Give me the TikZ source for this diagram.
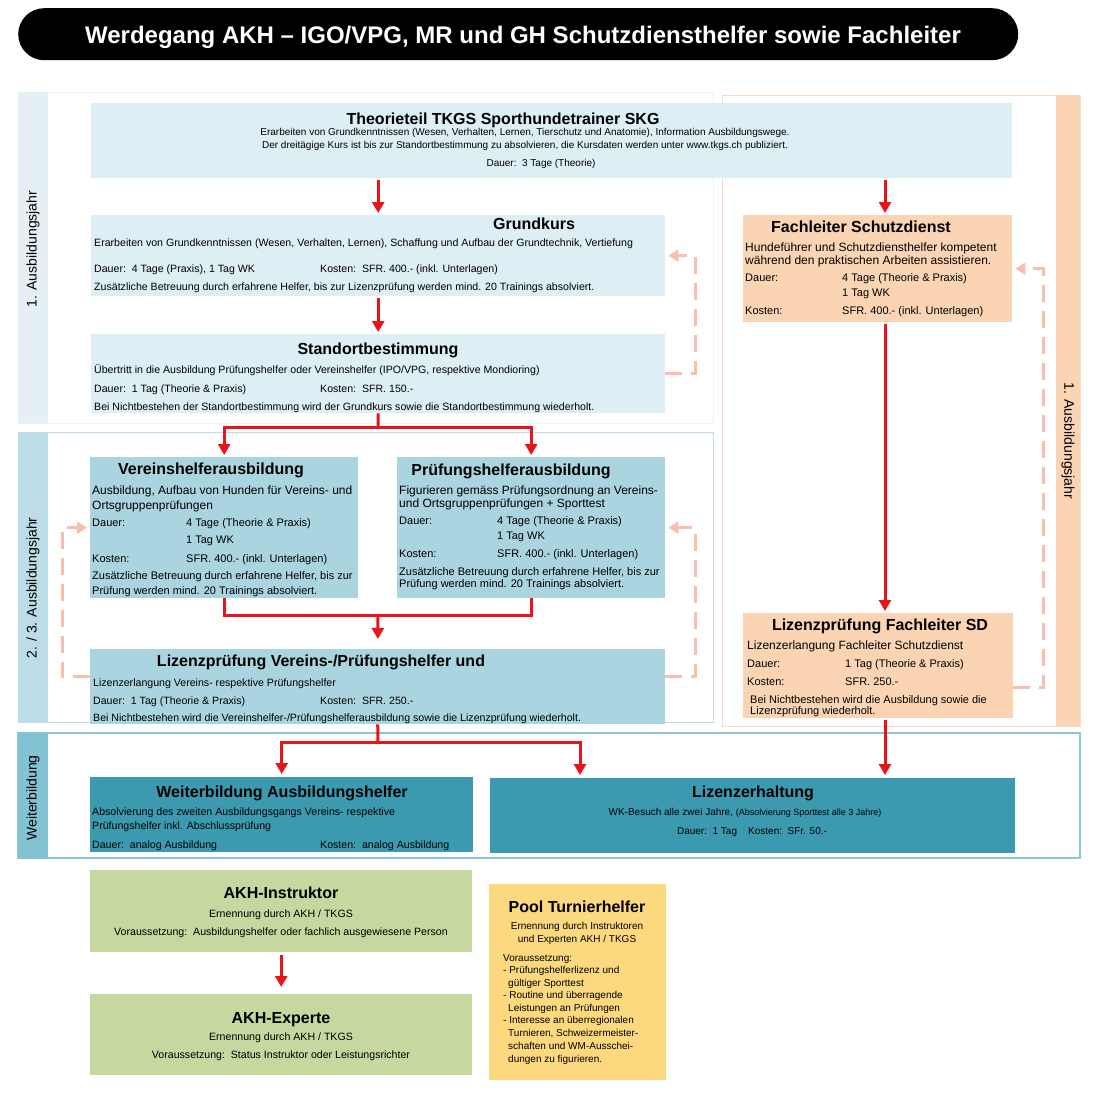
\documentclass[tikz,border=0pt]{standalone}
\usepackage{fontspec}
\setmainfont{Liberation Sans}
\usetikzlibrary{arrows.meta}
\newcommand\fsz[2]{\fontsize{#1}{#2}\selectfont}
\definecolor{lightbl}{RGB}{221,238,244}
\definecolor{midbl}{RGB}{169,212,224}
\definecolor{tealbl}{RGB}{59,154,176}
\definecolor{peach}{RGB}{251,212,180}
\definecolor{akhgreen}{RGB}{196,216,159}
\definecolor{poolyel}{RGB}{252,216,127}
\definecolor{arrred}{RGB}{232,20,26}
\definecolor{dashpink}{RGB}{248,190,176}
\definecolor{bandoneline}{RGB}{234,243,246}
\definecolor{bandonefill}{RGB}{228,240,244}
\definecolor{bandtwoline}{RGB}{190,220,231}
\definecolor{bandtwofill}{RGB}{188,220,231}
\definecolor{bandfl}{RGB}{249,220,200}
\definecolor{bandwbline}{RGB}{141,198,212}
\definecolor{bandwbfill}{RGB}{130,194,210}
\tikzset{
    box/.style={anchor=north west, inner sep=0, draw=none},
    ttl/.style={anchor=base, inner sep=0, font=\bfseries\fsz{16}{19}},
    tx/.style={anchor=base west, inner sep=0, font=\fsz{10}{12}},
    txc/.style={anchor=base, inner sep=0, font=\fsz{10}{12}},
    txb/.style={anchor=base west, inner sep=0, font=\fsz{10.6}{12}},
    txbc/.style={anchor=base, inner sep=0, font=\fsz{10.6}{12}},
    txm/.style={anchor=base west, inner sep=0, font=\fsz{11}{13}},
    txl/.style={anchor=base west, inner sep=0, font=\fsz{12}{14}},
    band/.style={inner sep=0, font=\fsz{14}{16}},
    redline/.style={draw=arrred, line width=3pt},
    redarrow/.style={redline, -{Triangle[length=11pt,width=12pt]}, shorten >=2pt, shorten <=2pt},
    dasharrow/.style={draw=dashpink, line width=3pt, dash pattern=on 17pt off 9pt,
        -{Triangle[length=10pt,width=12pt]}, shorten >=3pt}
}
\begin{document}
\begin{tikzpicture}[x=1pt, y=-1pt]
    \useasboundingbox (0,0) rectangle (1097,1092);
    % title
    \node[box, fill=black, rounded corners=26pt, minimum width=1000pt, minimum height=52pt] (head) at (18,8) {};
    \node[anchor=base, inner sep=0, text=white, font=\bfseries\fsz{24}{28}] (headt) at (523,43.5)
        {Werdegang AKH – IGO/VPG, MR und GH Schutzdiensthelfer sowie Fachleiter};

    % bands
    \draw[bandoneline] (18,92) rectangle (713,423);
    \fill[bandonefill] (18,92) rectangle (48,423);
    \draw[bandtwoline] (18,432) rectangle (713,722);
    \fill[bandtwofill] (18,432) rectangle (48,722);
    \draw[bandfl] (722,95) rectangle (1080,726);
    \fill[peach] (1056,95) rectangle (1080,726);
    \draw[bandwbline, line width=1.2pt] (18,733) rectangle (1080,858);
    \fill[bandwbfill] (18,733) rectangle (48,858);
    \node[band, rotate=90] (b1) at (33,249) {1. Ausbildungsjahr};
    \node[band, rotate=90] (b2) at (33,588) {2. / 3. Ausbildungsjahr};
    \node[band, rotate=90] (b3) at (33,798) {Weiterbildung};
    \node[band, rotate=-90] (b4) at (1068,441) {1. Ausbildungsjahr};

    % boxes
    \node[box, fill=lightbl, minimum width=921pt, minimum height=75pt] (th) at (91,103) {};
    \node[box, fill=lightbl, minimum width=574pt, minimum height=81pt] (gk) at (91,215) {};
    \node[box, fill=lightbl, minimum width=574pt, minimum height=79pt] (sb) at (91,334) {};
    \node[box, fill=midbl, minimum width=268pt, minimum height=141pt] (vh) at (90,457) {};
    \node[box, fill=midbl, minimum width=268pt, minimum height=141pt] (ph) at (397,457) {};
    \node[box, fill=midbl, minimum width=575pt, minimum height=75pt] (lz) at (90,649) {};
    \node[box, fill=peach, minimum width=269pt, minimum height=107pt] (fl) at (743,215) {};
    \node[box, fill=peach, minimum width=270pt, minimum height=105pt] (lfl) at (743,613) {};
    \node[box, fill=tealbl, minimum width=383pt, minimum height=75pt] (wb) at (90,777) {};
    \node[box, fill=tealbl, minimum width=525pt, minimum height=75pt] (le) at (490,778) {};
    \node[box, fill=akhgreen, minimum width=382pt, minimum height=82pt] (ins) at (90,870) {};
    \node[box, fill=akhgreen, minimum width=382pt, minimum height=81pt] (exp) at (90,994) {};
    \node[box, fill=poolyel, minimum width=177pt, minimum height=196pt] (pool) at (489,884) {};

    % Theorieteil
    \node[ttl] (tht) at (503,124) {Theorieteil TKGS Sporthundetrainer SKG};
    \node[txc] (th1) at (525,135.5) {Erarbeiten von Grundkenntnissen (Wesen, Verhalten, Lernen, Tierschutz und Anatomie), Information Ausbildungswege.};
    \node[txc] (th2) at (525,148.5) {Der dreitägige Kurs ist bis zur Standortbestimmung zu absolvieren, die Kursdaten werden unter www.tkgs.ch publiziert.};
    \node[txc] (th3) at (541,166.5) {Dauer:\ \ 3 Tage (Theorie)};

    % Grundkurs
    \node[ttl] (gkt) at (534,229) {Grundkurs};
    \node[txb] (gk1) at (94,246.5) {Erarbeiten von Grundkenntnissen (Wesen, Verhalten, Lernen), Schaffung und Aufbau der Grundtechnik, Vertiefung};
    \node[txb] (gk2) at (94,272.5) {Dauer:\ \ 4 Tage (Praxis), 1 Tag WK};
    \node[txb] (gk3) at (320,272.5) {Kosten:\ \ SFR. 400.- (inkl. Unterlagen)};
    \node[txb] (gk4) at (94,290.5) {Zusätzliche Betreuung durch erfahrene Helfer, bis zur Lizenzprüfung werden mind. 20 Trainings absolviert.};

    % Standortbestimmung
    \node[ttl] (sbt) at (378,354) {Standortbestimmung};
    \node[txb] (sb1) at (94,373.5) {Übertritt in die Ausbildung Prüfungshelfer oder Vereinshelfer (IPO/VPG, respektive Mondioring)};
    \node[txb] (sb2) at (94,392.5) {Dauer:\ \ 1 Tag (Theorie \& Praxis)};
    \node[txb] (sb3) at (320,392.5) {Kosten:\ \ SFR. 150.-};
    \node[txb] (sb4) at (94,410.5) {Bei Nichtbestehen der Standortbestimmung wird der Grundkurs sowie die Standortbestimmung wiederholt.};

    % Vereinshelferausbildung
    \node[ttl] (vht) at (211,474) {Vereinshelferausbildung};
    \node[txl] (vh1) at (92,494) {Ausbildung, Aufbau von Hunden für Vereins- und};
    \node[txl] (vh2) at (92,509) {Ortsgruppenprüfungen};
    \node[txm] (vh3) at (92,526) {Dauer:};
    \node[txm] (vh4) at (186,526) {4 Tage (Theorie \& Praxis)};
    \node[txm] (vh5) at (186,543) {1 Tag WK};
    \node[txm] (vh6) at (92,562) {Kosten:};
    \node[txm] (vh7) at (186,562) {SFR. 400.- (inkl. Unterlagen)};
    \node[txm] (vh8) at (92,579) {Zusätzliche Betreuung durch erfahrene Helfer, bis zur};
    \node[txm] (vh9) at (92,594) {Prüfung werden mind. 20 Trainings absolviert.};

    % Pruefungshelferausbildung
    \node[ttl] (pht) at (511,475) {Prüfungshelferausbildung};
    \node[txl] (ph1) at (399,494) {Figurieren gemäss Prüfungsordnung an Vereins-};
    \node[txl] (ph2) at (399,507) {und Ortsgruppenprüfungen + Sporttest};
    \node[txm] (ph3) at (399,524) {Dauer:};
    \node[txm] (ph4) at (497,524) {4 Tage (Theorie \& Praxis)};
    \node[txm] (ph5) at (497,539) {1 Tag WK};
    \node[txm] (ph6) at (399,557) {Kosten:};
    \node[txm] (ph7) at (497,557) {SFR. 400.- (inkl. Unterlagen)};
    \node[txm] (ph8) at (399,575) {Zusätzliche Betreuung durch erfahrene Helfer, bis zur};
    \node[txm] (ph9) at (399,587) {Prüfung werden mind. 20 Trainings absolviert.};

    % Lizenzpruefung Vereins-/Pruefungshelfer
    \node[ttl] (lzt) at (321,666) {Lizenzprüfung Vereins-/Prüfungshelfer und};
    \node[txb] (lz1) at (93,686.5) {Lizenzerlangung Vereins- respektive Prüfungshelfer};
    \node[txb] (lz2) at (93,704.5) {Dauer:\ \ 1 Tag (Theorie \& Praxis)};
    \node[txb] (lz3) at (320,704.5) {Kosten:\ \ SFR. 250.-};
    \node[txb] (lz4) at (93,721) {Bei Nichtbestehen wird die Vereinshelfer-/Prüfungshelferausbildung sowie die Lizenzprüfung wiederholt.};

    % Fachleiter Schutzdienst
    \node[ttl] (flt) at (861,232) {Fachleiter Schutzdienst};
    \node[txl] (fl1) at (745,251) {Hundeführer und Schutzdiensthelfer kompetent};
    \node[txl] (fl2) at (745,264) {während den praktischen Arbeiten assistieren.};
    \node[txm] (fl3) at (745,281) {Dauer:};
    \node[txm] (fl4) at (842,281) {4 Tage (Theorie \& Praxis)};
    \node[txm] (fl5) at (842,296) {1 Tag WK};
    \node[txm] (fl6) at (745,314) {Kosten:};
    \node[txm] (fl7) at (842,314) {SFR. 400.- (inkl. Unterlagen)};

    % Lizenzpruefung Fachleiter SD
    \node[ttl] (lflt) at (880,630) {Lizenzprüfung Fachleiter SD};
    \node[txl] (lfl1) at (747,649) {Lizenzerlangung Fachleiter Schutzdienst};
    \node[txm] (lfl2) at (747,667) {Dauer:};
    \node[txm] (lfl3) at (845,667) {1 Tag (Theorie \& Praxis)};
    \node[txm] (lfl4) at (747,685) {Kosten:};
    \node[txm] (lfl5) at (845,685) {SFR. 250.-};
    \node[txm] (lfl6) at (750,703) {Bei Nichtbestehen wird die Ausbildung sowie die};
    \node[txm] (lfl7) at (750,714) {Lizenzprüfung wiederholt.};

    % Weiterbildung
    \node[ttl] (wbt) at (282,797) {Weiterbildung Ausbildungshelfer};
    \node[txb] (wb1) at (92,815.5) {Absolvierung des zweiten Ausbildungsgangs Vereins- respektive};
    \node[txb] (wb2) at (92,829.5) {Prüfungshelfer inkl. Abschlussprüfung};
    \node[txb] (wb3) at (92,848.5) {Dauer:\ \ analog Ausbildung};
    \node[txb] (wb4) at (320,848.5) {Kosten:\ \ analog Ausbildung};
    \node[ttl] (let) at (753,797) {Lizenzerhaltung};
    \node[txc] (le1) at (745,815.5) {WK-Besuch alle zwei Jahre, {\fsz{9}{11}(Absolvierung Sporttest alle 3 Jahre)}};
    \node[txc] (le2) at (752,834.5) {Dauer:\ \ 1 Tag\ \ \ \ Kosten:\ \ SFr. 50.-};

    % AKH
    \node[ttl] (inst) at (281,898) {AKH-Instruktor};
    \node[txbc] (ins1) at (281,917.5) {Ernennung durch AKH / TKGS};
    \node[txbc] (ins2) at (281,935.5) {Voraussetzung:\ \ Ausbildungshelfer oder fachlich ausgewiesene Person};
    \node[ttl] (expt) at (281,1023) {AKH-Experte};
    \node[txbc] (exp1) at (281,1040.5) {Ernennung durch AKH / TKGS};
    \node[txbc] (exp2) at (281,1058.5) {Voraussetzung:\ \ Status Instruktor oder Leistungsrichter};

    % Pool Turnierhelfer
    \node[ttl] (poolt) at (577,912) {Pool Turnierhelfer};
    \node[txc] (pool1) at (577,929.5) {Ernennung durch Instruktoren};
    \node[txc] (pool2) at (577,942.5) {und Experten AKH / TKGS};
    \node[tx] (pool3) at (503,961.5) {Voraussetzung:};
    \node[tx] (pool4) at (503,973.5) {- Prüfungshelferlizenz und};
    \node[tx] (pool5) at (508,986.5) {gültiger Sporttest};
    \node[tx] (pool6) at (503,998.5) {- Routine und überragende};
    \node[tx] (pool7) at (508,1011.5) {Leistungen an Prüfungen};
    \node[tx] (pool8) at (503,1023.5) {- Interesse an überregionalen};
    \node[tx] (pool9) at (508,1036.5) {Turnieren, Schweizermeister-};
    \node[tx] (pool10) at (508,1049.5) {schaften und WM-Ausschei-};
    \node[tx] (pool11) at (508,1062.5) {dungen zu figurieren.};

    % red connectors
    \coordinate (sbj) at (378,427);
    \coordinate (vpj) at (378,615);
    \coordinate (lzj) at (378,742);
    \coordinate (lex) at (580,742);
    \coordinate (flx) at (885,0);
    \draw[redarrow] (th.south -| gk.north) -- (gk.north);
    \draw[redarrow] (gk.south) -- (sb.north);
    \draw[redline] (sb.south) -- (sbj);
    \draw[redarrow, shorten <=0pt] (sbj) -| (vh.north);
    \draw[redarrow, shorten <=0pt] (sbj) -| (ph.north);
    \draw[redline] (vh.south) |- (vpj) -| (ph.south);
    \draw[redarrow, shorten <=0pt, shorten >=10pt] (vpj) -- (lz.north);
    \draw[redline] (lz.south) -- (lzj);
    \draw[redarrow, shorten <=0pt, shorten >=3pt] (lzj) -| (wb.north);
    \draw[redarrow, shorten <=0pt, shorten >=3pt] (lzj) -| (lex |- le.north);
    \draw[redarrow] (th.south -| flx) -- (fl.north -| flx);
    \draw[redarrow] (fl.south -| flx) -- (lfl.north -| flx);
    \draw[redarrow, shorten >=3pt] (lfl.south -| flx) -- (le.north -| flx);
    \draw[redarrow, shorten <=3pt, shorten >=7pt] (ins.south) -- (exp.north);

    % dashed repeat loops
    \draw[dasharrow] (sb.east) -- ++(30,0) |- (gk.east);
    \draw[dasharrow] ([yshift=10pt]lz.west) -- ++(-28,0) |- (vh.west);
    \draw[dasharrow] ([yshift=10pt]lz.east) -- ++(30,0) |- (ph.east);
    \draw[dasharrow] ([yshift=-22pt]lfl.east) -- ++(30,0) |- (fl.east);
\end{tikzpicture}
\end{document}
